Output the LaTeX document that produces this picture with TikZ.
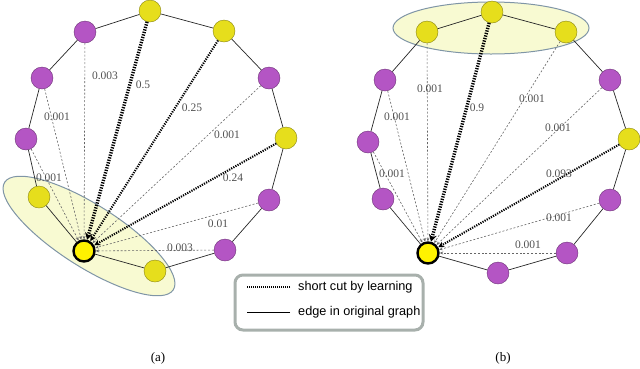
\documentclass[tikz,border=0pt]{standalone}
\usepackage{fontspec}
\setmainfont{Liberation Serif}
\newfontfamily\legendfont{Liberation Sans}
\usetikzlibrary{arrows.meta}
\definecolor{nodeyellow}{HTML}{E6DE1C}
\definecolor{nodepurple}{HTML}{B455C4}
\definecolor{blobfill}{HTML}{F8FAD2}
\definecolor{blobline}{HTML}{7F95A6}
\definecolor{boxline}{HTML}{A8B0AC}
\definecolor{weightgray}{HTML}{505050}
\begin{document}
\begin{tikzpicture}[x=1pt,y=-1pt,
  yel/.style={circle,fill=nodeyellow,draw=nodeyellow!60!black,line width=0.4pt,minimum size=22pt,inner sep=0pt},
  pur/.style={circle,fill=nodepurple,draw=nodepurple!60!black,line width=0.4pt,minimum size=22pt,inner sep=0pt},
  hub/.style={circle,fill=yellow,draw=black,line width=2.4pt,minimum size=21pt,inner sep=0pt},
  ring/.style={draw=black!85,line width=0.7pt},
  weak/.style={draw=black!60,line width=0.6pt,dash pattern=on 2pt off 1.8pt,-{Stealth[length=3.5pt,width=3pt]}},
  mid/.style={draw=black,line width=2.1pt,dash pattern=on 1.2pt off 1.2pt,-{Stealth[length=6pt,width=6pt]}},
  heavy/.style={draw=black,line width=3.4pt,dash pattern=on 1.3pt off 1.3pt,-{Stealth[length=7pt,width=8pt]}},
  wt/.style={text=weightgray,font=\fontsize{11.5}{12}\selectfont,inner sep=0pt},
  blob/.style={fill=blobfill,draw=blobline,line width=1pt},
  legtext/.style={font=\legendfont\fontsize{12.7}{14}\selectfont,anchor=west,inner sep=0pt},
  caption/.style={font=\fontsize{13}{15}\selectfont,inner sep=0pt}]
\useasboundingbox (0,0) rectangle (640,368);
% groups
\draw [blob,rotate around={-32.5:(89,236)}] (89,236) ellipse [x radius=100,y radius=31];
\draw [blob] (491,28) ellipse [x radius=98,y radius=26];
% left graph (a)
\node [yel] (L1) at (150,11) {};
\node [yel] (L2) at (224,31) {};
\node [pur] (L3) at (269,78) {};
\node [yel] (L4) at (286,138) {};
\node [pur] (L5) at (269,200) {};
\node [pur] (L6) at (225,250) {};
\node [yel] (L7) at (155,271) {};
\node [hub] (L0) at (84,251) {};
\node [yel] (L9) at (39,197) {};
\node [pur] (L10) at (26,139) {};
\node [pur] (L11) at (42,78) {};
\node [pur] (L12) at (85,32) {};
\foreach \a/\b in {1/2,2/3,3/4,4/5,5/6,6/7,7/0,0/9,9/10,10/11,11/12,12/1}
  \draw [ring] (L\a) -- (L\b);
\draw [heavy] (L1) -- (L0);
\draw [mid] (L2) -- (L0);
\draw [mid] (L4) -- (L0);
\foreach \s in {3,5,6,10,11,12}
  \draw [weak] (L\s) -- (L0);
\node [wt] (wL1) at (143,85) {0.5};
\node [wt] (wL2) at (192,108) {0.25};
\node [wt] (wL3) at (227,135) {0.001};
\node [wt] (wL4) at (233,178) {0.24};
\node [wt] (wL5) at (218,224) {0.01};
\node [wt] (wL6) at (180,248) {0.003};
\node [wt] (wL10) at (49,178) {0.001};
\node [wt] (wL11) at (57,117) {0.001};
\node [wt] (wL12) at (105,76) {0.003};
% right graph (b)
\node [yel] (R1) at (492,12) {};
\node [yel] (R2) at (566,32) {};
\node [pur] (R3) at (610,80) {};
\node [yel] (R4) at (629,139) {};
\node [pur] (R5) at (610,200) {};
\node [pur] (R6) at (567,253) {};
\node [pur] (R7) at (498,273) {};
\node [hub] (R0) at (428,253) {};
\node [pur] (R9) at (383,199) {};
\node [pur] (R10) at (368,142) {};
\node [pur] (R11) at (385,80) {};
\node [yel] (R12) at (427,32) {};
\foreach \a/\b in {1/2,2/3,3/4,4/5,5/6,6/7,7/0,0/9,9/10,10/11,11/12,12/1}
  \draw [ring] (R\a) -- (R\b);
\draw [heavy] (R1) -- (R0);
\draw [mid] (R4) -- (R0);
\foreach \s in {2,3,5,6,10,11,12}
  \draw [weak] (R\s) -- (R0);
\node [wt] (wR1) at (477,108) {0.9};
\node [wt] (wR2) at (532,99) {0.001};
\node [wt] (wR3) at (558,128) {0.001};
\node [wt] (wR4) at (559,174) {0.093};
\node [wt] (wR5) at (559,218) {0.001};
\node [wt] (wR6) at (528,245) {0.001};
\node [wt] (wR10) at (392,174) {0.001};
\node [wt] (wR11) at (397,117) {0.001};
\node [wt] (wR12) at (430,89) {0.001};
% legend
\draw [boxline,line width=3pt,rounded corners=8pt] (235,275) rectangle (423,330);
\node [legtext] (shortcut) at (298,287) {short cut by learning};
\node [legtext] (original) at (298,312) {edge in original graph};
\draw [black,line width=1.2pt,dash pattern=on 1pt off 1pt] ([xshift=-8pt]shortcut.west) -- ++(-43,0);
\draw [black,line width=0.8pt] ([xshift=-8pt]original.west) -- ++(-43,0);
% captions
\node [caption] (capa) at (158,358) {(a)};
\node [caption] (capb) at (503,358) {(b)};
\end{tikzpicture}
\end{document}
